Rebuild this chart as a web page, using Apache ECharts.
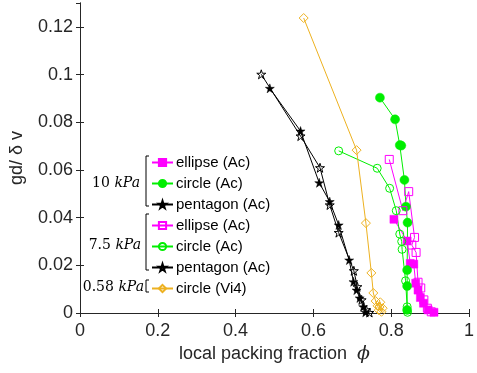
<!DOCTYPE html>
<html><head><meta charset="utf-8">
<script src="https://cdn.jsdelivr.net/npm/echarts@6/dist/echarts.min.js"></script>
<style>html,body{margin:0;padding:0;background:#fff}#c{width:477px;height:373px}</style>
</head><body><div id="c"></div>
<script>
// ---- data (phi, gd/δv) ----
const seriesNames = ['ellipse (Ac)', 'circle (Ac)', 'pentagon (Ac)', 'ellipse (Ac)', 'circle (Ac)', 'pentagon (Ac)', 'circle (Vi4)'];
const pressureLabels = ['10', '7.5', '0.58'];
const ellipse10 = [[0.807,0.0393],[0.841,0.0302],[0.849,0.0208],[0.858,0.0205],[0.863,0.0125],[0.869,0.0096],[0.875,0.0065],[0.883,0.0041],[0.895,0.0013],[0.910,0.0003]];
const circle10 = [[0.771,0.0903],[0.810,0.0812],[0.822,0.0704],[0.826,0.0702],[0.834,0.0558],[0.838,0.0446],[0.842,0.0379],[0.841,0.0180],[0.841,0.0113],[0.841,0.0013]];
const pentagon10 = [[0.488,0.0942],[0.567,0.0763],[0.615,0.0546],[0.642,0.0467],[0.665,0.0369],[0.692,0.0222],[0.703,0.0131],[0.711,0.0096],[0.719,0.0063],[0.728,0.0026],[0.734,0.0003]];
const ellipse75 = [[0.795,0.0644],[0.830,0.0429],[0.845,0.0509],[0.860,0.0317],[0.853,0.0285],[0.864,0.0254],[0.869,0.0129],[0.876,0.0105],[0.884,0.0055],[0.893,0.0020],[0.903,0.0005]];
const circle75 = [[0.665,0.0680],[0.764,0.0607],[0.796,0.0523],[0.813,0.0429],[0.822,0.0331],[0.827,0.0300],[0.828,0.0267],[0.837,0.0135],[0.841,0.0026],[0.842,0.0003]];
const pentagon75 = [[0.466,0.1001],[0.567,0.0742],[0.617,0.0609],[0.642,0.0453],[0.665,0.0337],[0.704,0.0177],[0.713,0.0110],[0.724,0.0055],[0.736,0.0013],[0.744,0.0002]];
const circleVi4 = [[0.575,0.1237],[0.711,0.0683],[0.735,0.0377],[0.749,0.0168],[0.754,0.0084],[0.760,0.0050],[0.765,0.0030],[0.772,0.0045],[0.768,0.0012],[0.778,0.0020],[0.775,0.0005],[0.770,0.0025]];
const xTicks = [0, 0.2, 0.4, 0.6, 0.8, 1];
const yTicks = [0, 0.02, 0.04, 0.06, 0.08, 0.1, 0.12];

const STAR = 'path://M50 0 L61.17 34.63 L97.55 34.55 L68.07 55.87 L79.39 90.45 L50 69 L20.61 90.45 L31.93 55.87 L2.45 34.55 L38.83 34.63 Z';
const MAG = '#ff00ff', GRN = '#00ee00', BLK = '#000000', ORG = '#EDB120';
const AX = '#262626';

const chart = echarts.init(document.getElementById('c'), null, {renderer: 'canvas'});
const uniq = (n, i) => i >= 3 && i < 6 ? n + '\u200b' : n;
const names = seriesNames.map(uniq);

function mk(name, data, color, symbol, size, filled) {
  return {
    type: 'line', name, data, xAxisIndex: 0, yAxisIndex: 0,
    symbol, symbolSize: size, showAllSymbol: true,
    lineStyle: {color, width: 1},
    itemStyle: filled ? {color, borderColor: color, borderWidth: 0.5} : {color: 'rgba(0,0,0,0)', borderColor: color, borderWidth: 1},
    emphasis: {disabled: true}, animation: false
  };
}

const fontSans = '"Liberation Sans", Arial, Helvetica, sans-serif';
const fontSerif = '"DejaVu Serif", "Liberation Serif", serif';

chart.setOption({
  animation: false,
  grid: {left: 77, right: 2, top: 3, bottom: 60, containLabel: false},
  xAxis: [{
    type: 'value', min: 0, max: 1, interval: 0.2, position: 'bottom',
    axisLine: {show: true, lineStyle: {color: AX, width: 1}},
    axisTick: {show: true, inside: true, length: 4, lineStyle: {color: AX}},
    axisLabel: {color: AX, fontSize: 18, fontFamily: fontSans, margin: 9, formatter: v => String(parseFloat(v.toFixed(2)))},
    splitLine: {show: false},
    name: '{a|local packing fraction  }{b|ϕ}', nameLocation: 'middle', nameGap: 32,
    nameTextStyle: {rich: {a: {fontSize: 18, fontFamily: fontSans, color: AX}, b: {fontSize: 19, fontFamily: fontSerif, fontStyle: 'italic', color: AX}}}
  }, {
    type: 'value', min: 0, max: 1, interval: 0.2, position: 'top',
    axisLine: {show: true, lineStyle: {color: AX, width: 1}},
    axisTick: {show: true, inside: true, length: 4, lineStyle: {color: AX}},
    axisLabel: {show: false}, splitLine: {show: false}
  }],
  yAxis: [{
    type: 'value', min: 0, max: 0.13, interval: 0.02, position: 'left',
    axisLine: {show: true, lineStyle: {color: AX, width: 1}},
    axisTick: {show: true, inside: true, length: 4, lineStyle: {color: AX}},
    axisLabel: {color: AX, fontSize: 18, fontFamily: fontSans, margin: 7, showMaxLabel: false,
      formatter: v => { const r = parseFloat(v.toFixed(3)); return yTicks.some(t => Math.abs(t - r) < 1e-9) ? String(r) : ''; }},
    splitLine: {show: false},
    name: 'gd/ δ v', nameLocation: 'middle', nameGap: 54, nameRotate: 90,
    nameTextStyle: {fontSize: 18, fontFamily: fontSans, color: AX}
  }, {
    type: 'value', min: 0, max: 0.13, interval: 0.02, position: 'right',
    axisLine: {show: true, lineStyle: {color: AX, width: 1}},
    axisTick: {show: true, inside: true, length: 4, lineStyle: {color: AX}},
    axisLabel: {show: false}, splitLine: {show: false}
  }],
  legend: {
    orient: 'vertical', left: 151, top: 155, padding: 0, itemWidth: 21, itemHeight: 9, itemGap: 6,
    data: names, selectedMode: false,
    textStyle: {fontSize: 15, fontFamily: fontSans, color: '#000', lineHeight: 14, padding: [0,0,0,-2]},
    formatter: n => n.replace('\u200b', '')
  },
  series: [
    mk(names[0], ellipse10, MAG, 'rect', 8, true),
    mk(names[1], circle10, GRN, 'circle', 9, true),
    mk(names[2], pentagon10, BLK, STAR, 9, true),
    mk(names[3], ellipse75, MAG, 'rect', 8, false),
    mk(names[4], circle75, GRN, 'circle', 8, false),
    mk(names[5], pentagon75, BLK, STAR, 9, false),
    mk(names[6], circleVi4, ORG, 'diamond', 9, false)
  ],
  graphic: [
    {type: 'polyline', shape: {points: [[149,156],[146,156],[146,206],[149,206]]}, style: {stroke: '#000', lineWidth: 1, fill: null}},
    {type: 'polyline', shape: {points: [[149,214],[146,214],[146,270],[149,270]]}, style: {stroke: '#000', lineWidth: 1, fill: null}},
    {type: 'polyline', shape: {points: [[149,280],[146,280],[146,292],[149,292]]}, style: {stroke: '#000', lineWidth: 1, fill: null}},
    {type: 'text', x: 140, y: 183, style: {text: '{n|' + pressureLabels[0] + ' }{i|kPa}', align: 'right', verticalAlign: 'middle',
      rich: {n: {fontSize: 14, fontFamily: fontSerif, fill: '#000'}, i: {fontSize: 14, fontFamily: fontSerif, fontStyle: 'italic', fill: '#000'}}}},
    {type: 'text', x: 141, y: 245, style: {text: '{n|' + pressureLabels[1] + ' }{i|kPa}', align: 'right', verticalAlign: 'middle',
      rich: {n: {fontSize: 14, fontFamily: fontSerif, fill: '#000'}, i: {fontSize: 14, fontFamily: fontSerif, fontStyle: 'italic', fill: '#000'}}}},
    {type: 'text', x: 144, y: 287, style: {text: '{n|' + pressureLabels[2] + ' }{i|kPa}', align: 'right', verticalAlign: 'middle',
      rich: {n: {fontSize: 14, fontFamily: fontSerif, fill: '#000'}, i: {fontSize: 14, fontFamily: fontSerif, fontStyle: 'italic', fill: '#000'}}}}
  ]
});
</script>
</body></html>
